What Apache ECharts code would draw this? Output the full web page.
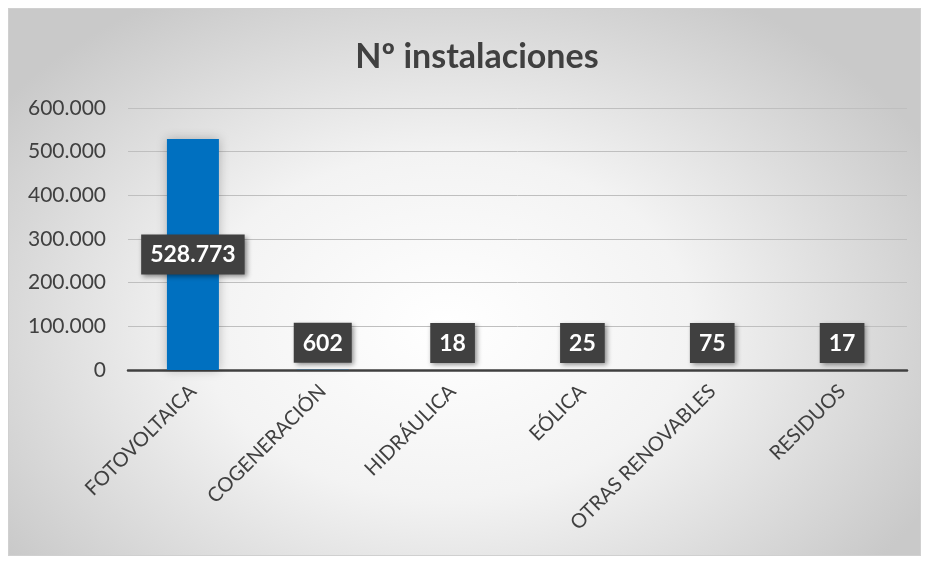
<!DOCTYPE html>
<html>
<head>
<meta charset="utf-8">
<script src="https://cdn.jsdelivr.net/npm/echarts@6/dist/echarts.min.js"></script>
<style>
  html, body { margin: 0; padding: 0; background: #fff; }
  .wrap { position: relative; width: 927px; height: 563px; }
  .frame {
    position: absolute; left: 8px; top: 8px; width: 911px; height: 546px;
    border: 1px solid #d0d0d0;
    background: radial-gradient(ellipse 60% 70% at 48% 58%, #ffffff 0%, #f3f3f3 45%, #c9c9c9 100%);
  }
  .chart { position: absolute; left: 0; top: 0; width: 927px; height: 563px; }
</style>
</head>
<body>
<div class="wrap">
  <div class="frame"></div>
  <div class="chart" id="chart"></div>
</div>
<script>
// categorias y valores
const categories = ['FOTOVOLTAICA', 'COGENERACIÓN', 'HIDRÁULICA', 'EÓLICA', 'OTRAS RENOVABLES', 'RESIDUOS']
const installs = [528773, 602, 18, 25, 75, 17]
const yTicks = [0, 100000, 200000, 300000, 400000, 500000, 600000]

const fmt = v => String(v).replace(/\B(?=(\d{3})+(?!\d))/g, '.')
const font = 'Lato, "Open Sans", sans-serif'

const myChart = echarts.init(document.getElementById('chart'))
const option = {
  backgroundColor: 'transparent',
  animation: false,
  title: {
    text: 'Nº instalaciones',
    left: 472,
    textAlign: 'center',
    top: 35,
    textStyle: { fontFamily: font, fontSize: 34, fontWeight: 'bold', color: '#404040' }
  },
  grid: { left: 128, right: 20, top: 108, bottom: 193 },
  xAxis: {
    type: 'category',
    data: categories,
    axisLine: { lineStyle: { color: '#404040', width: 2.5 } },
    axisTick: { length: 8, lineStyle: { color: '#404040', width: 2 } },
    axisLabel: {
      interval: 0, rotate: 45, margin: 18,
      fontFamily: font, fontSize: 20, color: '#404040'
    }
  },
  yAxis: {
    type: 'value',
    min: yTicks[0],
    max: yTicks[yTicks.length - 1],
    interval: 100000,
    axisLine: { show: false },
    axisTick: { show: false },
    axisLabel: {
      margin: 22, fontFamily: font, fontSize: 21, color: '#404040',
      formatter: v => fmt(v)
    },
    splitLine: { lineStyle: { color: '#bfbfbf', width: 1 } }
  },
  series: [{
    type: 'bar',
    barWidth: 52,
    itemStyle: { color: '#0070c0', shadowColor: 'rgba(0,0,0,0.25)', shadowBlur: 10 },
    data: installs.map(v => ({
      value: v,
      label: v > 100000 ? { position: 'inside' } : { position: 'top', distance: 7 }
    })),
    label: {
      show: true,
      formatter: p => fmt(p.value),
      fontFamily: font, fontSize: 23, fontWeight: 'bold', color: '#ffffff',
      backgroundColor: '#404040',
      padding: [9, 9, 8, 9],
      shadowColor: 'rgba(0,0,0,0.45)', shadowBlur: 5, shadowOffsetX: 2, shadowOffsetY: 2
    }
  }]
}
myChart.setOption(option)
</script>
</body>
</html>
